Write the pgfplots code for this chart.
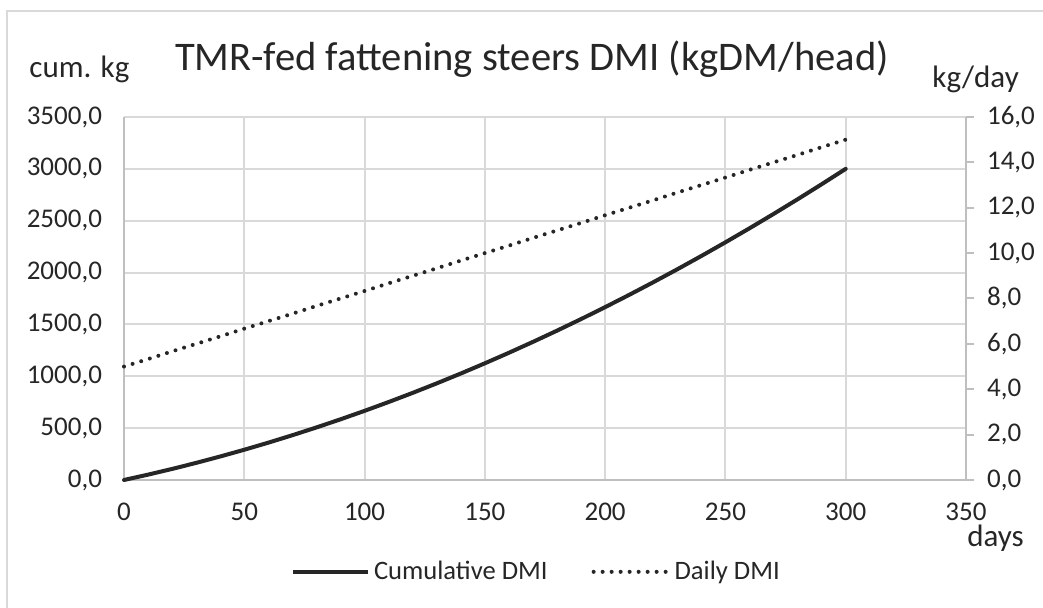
\documentclass[border=0pt]{standalone}
\usepackage{pgfplots}
\pgfplotsset{compat=1.18}
\usepackage{fontspec}
\setmainfont{Carlito}
\definecolor{gridc}{HTML}{D9D9D9}
\definecolor{axisc}{HTML}{BFBFBF}
\definecolor{txt}{HTML}{262626}

% days, cumulative DMI (kg), daily DMI (kg/day)
\pgfplotstableread{
t   cum     daily
0   0       5.00
10  51.7    5.33
20  106.7   5.67
30  165.0   6.00
40  226.7   6.33
50  291.7   6.67
60  360.0   7.00
70  431.7   7.33
80  506.7   7.67
90  585.0   8.00
100 666.7   8.33
110 751.7   8.67
120 840.0   9.00
130 931.7   9.33
140 1026.7  9.67
150 1125.0  10.00
160 1226.7  10.33
170 1331.7  10.67
180 1440.0  11.00
190 1551.7  11.33
200 1666.7  11.67
210 1785.0  12.00
220 1906.7  12.33
230 2031.7  12.67
240 2160.0  13.00
250 2291.7  13.33
260 2426.7  13.67
270 2565.0  14.00
280 2706.7  14.33
290 2851.7  14.67
300 3000.0  15.00
}\dmi

\pgfplotsset{
  commonax/.style={
    scale only axis, width=421pt, height=181.5pt,
    xmin=0, xmax=350,
    /pgf/number format/assume math mode=true,
    tick label style={font=\fontsize{13.5}{13.5}\selectfont, text=txt},
    /pgf/number format/.cd, fixed, fixed zerofill, precision=1, use comma, 1000 sep={},
  },
}

\begin{document}
\begin{tikzpicture}
\useasboundingbox (-62pt,-64pt) rectangle (459.5pt,240pt);
\draw[gridc, line width=1pt] (-58.5pt,-80pt) -- (-58.5pt,234.5pt) -- (480pt,234.5pt);

\begin{axis}[
  commonax,
  ymin=0, ymax=3500, ytick distance=500,
  xtick distance=50,
  xticklabel style={/pgf/number format/precision=0, /pgf/number format/fixed zerofill=false, yshift=-8pt},
  yticklabel style={xshift=-7.5pt},
  grid=major, grid style={gridc, line width=1pt},
  axis line style={axisc, line width=1pt},
  axis x line*=bottom, axis y line*=left,
  major tick length=0pt,
  clip=false,
]
\addplot[txt, line width=2pt, line cap=round, line join=round] table[x=t, y=cum] {\dmi};
\node[anchor=base west, font=\fontsize{15.5}{15.5}\selectfont, text=txt, inner sep=0pt] at (axis cs:0,0) [xshift=-47.5pt, yshift=201pt] {cum. kg};
\node[anchor=base, font=\fontsize{20.3}{20.3}\selectfont, text=txt, inner sep=0pt] at (axis cs:0,0) [xshift=204pt, yshift=204.5pt] {TMR-fed fattening steers DMI (kgDM/head)};
\node[anchor=base west, font=\fontsize{15.5}{15.5}\selectfont, text=txt, inner sep=0pt] at (axis cs:0,0) [xshift=404pt, yshift=196pt] {kg/day};
\node[anchor=base west, font=\fontsize{15.5}{15.5}\selectfont, text=txt, inner sep=0pt] at (axis cs:0,0) [xshift=421.5pt, yshift=-33.5pt] {days};
\end{axis}

\begin{axis}[
  commonax,
  ymin=0, ymax=16, ytick distance=2,
  axis x line=none,
  axis y line*=right,
  axis line style={axisc, line width=1pt},
  ytick style={axisc, line width=1pt},
  tick align=outside, major tick length=4pt,
  yticklabel style={xshift=3pt},
  clip=false,
  legend style={at={(0.491,-0.253)}, anchor=center, draw=none, fill=none,
    font=\fontsize{13.3}{13.3}\selectfont, text=txt, legend columns=2,
    /tikz/every even column/.append style={column sep=20pt}},
  legend cell align=left,
  legend image code/.code={\draw[#1] (0pt,0pt) -- (37.5pt,0pt);},
]
\addlegendimage{txt, line width=2pt}
\addlegendentry{Cumulative DMI}
\addplot[txt, line width=2pt, line cap=round, dash pattern=on 0pt off 4.5pt] table[x=t, y=daily] {\dmi};
\addlegendentry{Daily DMI}
\end{axis}
\end{tikzpicture}
\end{document}
